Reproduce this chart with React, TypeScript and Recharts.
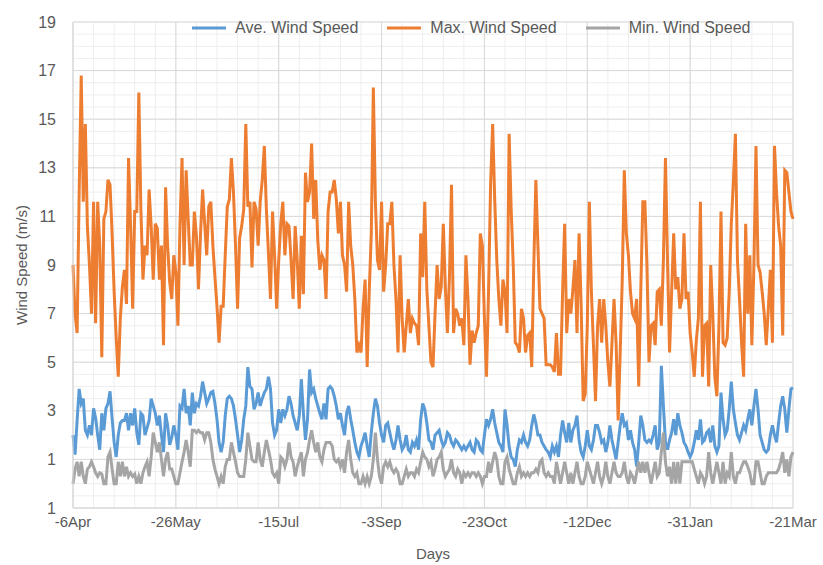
import {
  LineChart,
  Line,
  XAxis,
  YAxis,
  CartesianGrid,
  Legend,
} from "recharts";

// daily values, 6 Apr -> 21 Mar (351 days) in six blocks
const maxApr = [9.0, 7.0, 6.2, 12.0, 16.8, 11.6, 14.8, 10.6, 9.0, 7.0, 11.6, 6.6, 11.6, 9.8, 5.2, 10.9, 11.2, 12.5, 12.3, 10.3, 7.9, 6.0, 4.4, 6.8, 8.1, 8.8, 7.4, 13.4, 10.6, 7.2, 11.2, 11.2, 16.1, 11.3, 8.4, 9.8, 9.4, 12.1, 10.6, 8.4, 10.7, 10.5, 8.4, 9.8, 5.7, 12.2, 9.8, 8.3, 7.6, 9.4, 8.7, 6.5, 10.6, 13.4, 9.0, 12.9, 10.9, 9.0];
const maxJun = [9.0, 11.2, 10.2, 8.0, 10.3, 12.1, 10.7, 9.4, 11.4, 11.6, 9.8, 8.5, 7.3, 5.8, 7.3, 7.3, 9.4, 11.4, 11.7, 13.4, 12.0, 9.8, 7.2, 10.1, 10.6, 11.3, 14.8, 11.4, 11.6, 8.9, 11.6, 11.3, 9.8, 11.6, 12.5, 13.9, 11.3, 9.5, 7.6, 11.2, 9.4, 7.2, 9.2, 10.7, 11.6, 9.4, 10.7, 10.6, 9.2, 7.6, 10.6, 9.2, 7.2, 10.2, 7.8, 12.8, 11.6, 12.0];
const maxAug = [14.0, 10.9, 12.5, 10.0, 8.8, 9.4, 9.2, 7.6, 11.2, 12.0, 12.0, 12.5, 11.7, 10.3, 11.6, 9.4, 9.0, 7.9, 11.6, 9.8, 9.0, 7.6, 5.4, 5.7, 5.4, 7.2, 8.4, 4.8, 7.9, 10.3, 16.3, 11.6, 9.2, 8.8, 11.6, 7.9, 9.0, 10.7, 10.7, 11.6, 9.0, 7.6, 5.4, 9.4, 6.8, 5.4, 6.5, 7.6, 6.2, 6.8, 6.6, 6.5, 5.7, 10.3, 8.5, 11.6, 8.0, 6.5, 5.0];
const maxOct = [4.8, 7.0, 9.0, 7.6, 8.1, 10.7, 8.1, 6.2, 8.5, 12.3, 6.2, 7.2, 7.0, 6.5, 6.8, 5.7, 9.4, 7.6, 4.9, 6.3, 5.8, 6.2, 6.5, 10.3, 9.8, 6.8, 4.4, 7.9, 12.3, 14.8, 11.7, 9.2, 7.6, 6.5, 8.4, 7.9, 6.2, 14.4, 11.3, 9.0, 5.8, 5.7, 5.4, 7.2, 6.8, 5.4, 6.1, 6.2, 4.8, 9.0, 12.5, 9.8, 7.2, 7.0, 6.8, 4.9, 4.9, 4.9];
const maxDec = [4.8, 4.6, 6.2, 4.5, 4.5, 7.9, 10.7, 6.2, 7.6, 7.0, 8.0, 9.2, 6.2, 10.3, 7.4, 3.4, 3.7, 6.5, 11.6, 7.9, 5.7, 3.4, 6.5, 7.6, 5.8, 7.6, 6.5, 5.0, 4.0, 5.8, 7.6, 5.8, 2.6, 5.4, 8.4, 12.9, 10.3, 9.4, 7.9, 7.0, 6.8, 7.6, 4.0, 7.9, 11.6, 11.6, 9.0, 5.0, 6.5, 6.6, 5.7, 7.9, 8.0, 6.5, 9.2, 13.4, 9.2, 5.4];
const maxFeb = [7.9, 10.3, 8.0, 8.5, 7.2, 7.6, 10.3, 7.6, 7.9, 6.2, 5.4, 4.4, 5.9, 6.8, 11.6, 4.4, 6.5, 6.6, 4.0, 9.0, 7.0, 4.4, 3.6, 6.5, 11.2, 5.8, 5.7, 6.0, 7.9, 10.7, 12.4, 14.4, 9.2, 7.6, 5.8, 4.4, 10.7, 7.0, 9.4, 5.7, 9.0, 13.9, 9.0, 8.7, 7.9, 7.0, 5.7, 7.2, 8.8, 5.8, 13.9, 12.0, 10.6, 9.8, 6.1, 12.9, 12.8, 12.0, 11.2, 10.9];

const aveApr = [2.0, 1.2, 2.6, 3.9, 3.3, 3.5, 2.2, 2.0, 2.4, 2.0, 3.1, 2.7, 2.0, 1.4, 2.9, 2.2, 3.1, 3.3, 3.8, 2.7, 1.7, 1.1, 2.0, 2.5, 2.6, 2.6, 2.9, 2.2, 2.9, 2.4, 3.1, 2.1, 1.6, 2.9, 2.8, 2.0, 2.3, 2.6, 3.5, 3.2, 2.9, 2.4, 2.8, 2.0, 1.3, 2.9, 2.4, 1.6, 1.9, 2.4, 2.0, 1.4, 3.2, 3.1, 3.9, 2.9, 3.2, 2.4];
const aveJun = [3.75, 2.9, 3.3, 3.2, 3.6, 4.2, 3.75, 3.3, 3.5, 3.75, 3.8, 3.3, 2.65, 1.7, 1.3, 1.7, 2.8, 3.5, 3.6, 3.5, 3.2, 2.65, 2.0, 1.3, 1.8, 2.65, 3.2, 4.8, 4.0, 3.9, 3.06, 3.3, 3.75, 3.2, 3.5, 3.75, 3.9, 4.4, 3.9, 2.5, 2.0, 2.2, 3.06, 2.5, 3.06, 2.8, 3.06, 3.6, 3.3, 2.8, 2.5, 2.2, 2.8, 4.3, 2.9, 1.8, 2.65, 4.7];
const aveAug = [3.75, 3.9, 3.5, 3.2, 2.9, 2.65, 3.3, 2.65, 3.9, 4.0, 3.9, 3.6, 3.2, 2.65, 2.9, 2.4, 2.0, 2.9, 3.2, 2.65, 2.2, 1.7, 1.3, 1.1, 1.55, 1.8, 2.1, 1.55, 1.1, 2.1, 2.9, 3.5, 3.2, 2.5, 2.0, 1.7, 2.4, 2.5, 2.1, 1.7, 1.4, 1.8, 2.4, 1.8, 1.4, 1.55, 2.0, 1.4, 1.3, 1.7, 1.55, 1.8, 1.4, 2.65, 3.3, 3.06, 2.5, 1.8, 1.7];
const aveOct = [1.4, 2.0, 2.1, 2.2, 1.8, 1.55, 1.7, 2.1, 2.0, 1.7, 1.55, 1.8, 1.7, 1.55, 1.4, 1.55, 1.4, 1.55, 1.7, 1.4, 1.3, 1.8, 1.7, 1.4, 1.3, 2.0, 2.65, 2.4, 2.65, 3.06, 2.5, 2.1, 1.7, 1.55, 1.3, 3.06, 2.4, 1.55, 1.1, 1.0, 0.7, 1.4, 1.8, 1.7, 2.0, 1.7, 1.55, 1.8, 2.4, 2.85, 2.5, 2.0, 2.0, 1.7, 1.55, 1.4, 1.3, 1.1];
const aveDec = [1.55, 1.3, 1.55, 1.1, 2.0, 2.6, 2.1, 1.7, 2.5, 1.7, 2.2, 2.4, 2.8, 1.8, 1.3, 1.1, 1.55, 2.2, 1.55, 1.4, 1.8, 2.4, 2.4, 2.1, 1.7, 1.8, 1.3, 1.7, 2.4, 1.8, 1.4, 1.0, 1.7, 2.4, 2.9, 2.4, 2.5, 1.8, 2.2, 1.7, 1.4, 0.7, 1.7, 2.8, 2.4, 1.8, 1.7, 1.8, 1.7, 2.0, 2.4, 1.4, 1.7, 4.85, 3.2, 1.7, 1.4, 1.8];
const aveFeb = [2.1, 2.65, 2.0, 2.9, 2.4, 2.1, 1.7, 1.55, 1.3, 1.1, 1.3, 1.7, 2.2, 1.8, 2.65, 1.7, 1.8, 2.1, 2.2, 1.7, 2.4, 1.55, 1.3, 1.55, 3.75, 2.65, 2.0, 2.2, 3.06, 4.2, 3.06, 2.5, 2.0, 1.8, 2.1, 2.4, 2.2, 2.65, 3.06, 2.4, 3.2, 3.9, 3.06, 2.0, 1.7, 1.4, 1.3, 1.4, 2.0, 2.4, 2.0, 1.7, 2.5, 3.2, 3.6, 3.06, 2.1, 3.06, 3.9, 3.95];

const minApr = [0, 0.6, 0.9, 0.3, 0.9, 0.3, 0, 0.6, 0.7, 0.9, 0.7, 0.45, 0.3, 0.45, 0.4, 0, 0, 1.1, 1.3, 0.6, 0, 0, 0.9, 0.3, 0.9, 0.3, 0.7, 0.3, 0.45, 0.3, 0.4, 0, 0.3, 0, 0.45, 0.7, 0.9, 0.3, 1.1, 2.1, 1.7, 1.3, 1.7, 1.0, 0.3, 1.0, 1.3, 0.6, 0.6, 0.3, 0, 0, 0.45, 0.9, 1.3, 1.8, 1.3, 0.7];
const minJun = [2.2, 2.2, 2.1, 2.2, 2.1, 2.1, 1.8, 2.1, 2.1, 1.7, 1.0, 0.6, 0.3, 0, 0.3, 0, 0.7, 1.0, 1.0, 1.7, 1.3, 0.9, 0.45, 0.3, 0.3, 0.3, 1.0, 2.1, 1.55, 1.0, 0.9, 0.9, 1.7, 1.0, 0.7, 1.3, 1.8, 1.4, 1.0, 0.45, 0.3, 0.45, 0, 1.1, 1.0, 0.7, 1.0, 1.7, 1.1, 0.9, 0.3, 0.7, 1.0, 1.3, 0.3, 1.0, 1.3, 1.8];
const minAug = [2.2, 1.7, 1.3, 1.7, 1.1, 0.9, 1.4, 1.7, 1.7, 1.7, 1.55, 1.0, 0.9, 1.0, 0.7, 1.0, 0.45, 1.3, 1.8, 1.0, 0.45, 0.3, 0.45, 0, 0, 0.3, 0, 0.3, 0, 0.3, 1.0, 2.1, 1.0, 0.3, 0, 0.7, 0.9, 0.7, 0.9, 0.6, 0.45, 0.6, 0.45, 0, 0, 0.3, 0.6, 0.3, 0.45, 0.45, 0.3, 0.6, 0.45, 0.9, 1.3, 1.1, 1.0, 0.7, 0.9];
const minOct = [0.3, 0.6, 1.0, 1.1, 1.3, 0.6, 0.3, 0.45, 0.6, 1.0, 0.45, 0.3, 0.6, 0.45, 0, 0.45, 0.3, 0.45, 0.3, 0.45, 0.45, 0.3, 0.45, 0.3, 0, 0.3, 0.3, 0.9, 0.45, 0.9, 1.3, 1.0, 0.3, 0, 0, 0.9, 1.1, 0.6, 0.3, 0, 0, 0.45, 0.7, 0.3, 0.45, 0.3, 0.45, 0.3, 0.45, 0.45, 0.6, 0.45, 0.9, 1.0, 0.45, 0.3, 0.45, 0.3];
const minDec = [0.3, 0, 0.9, 0.45, 0, 0.45, 0.9, 0.45, 0, 0.45, 0, 0.45, 0.9, 0.3, 0, 0, 0.3, 0.9, 0.6, 0.3, 0, 0.45, 0.9, 0.3, 0, 0.3, 0.9, 0.3, 0, 0.45, 0.9, 0.45, 0.3, 0.3, 0.45, 0.9, 0.3, 0, 0.45, 0.3, 0, 0.45, 0.9, 0.45, 0.9, 0.45, 0.9, 0.45, 0, 0.45, 0.9, 0.3, 0.45, 1.3, 2.1, 0.9, 0.3, 0.7];
const minFeb = [0, 0.9, 0, 0.9, 0, 0.9, 0.9, 0.9, 0.9, 0.9, 0.9, 0.6, 0.3, 0, 0.45, 0.3, 0, 0.3, 1.3, 0.45, 0, 0.45, 0.9, 0.45, 0, 0.9, 0, 0.45, 0.3, 1.3, 0.3, 0, 0.45, 0.45, 0.7, 0.9, 0.9, 0.7, 0.45, 0, 0, 0.9, 0.9, 0.45, 0, 0, 0.3, 0.45, 0.45, 0.45, 0.45, 0.45, 0.6, 0.9, 1.3, 0.45, 1.0, 0.3, 1.1, 1.3];

const tickDays = [0, 50, 100, 150, 200, 250, 300, 350];
const tickLabels = ["-6Apr", "-26May", "-15Jul", "-3Sep", "-23Oct", "-12Dec", "-31Jan", "-21Mar"];
const yTicks = [-1, 1, 3, 5, 7, 9, 11, 13, 15, 17, 19];

const maxWind = [...maxApr, ...maxJun, ...maxAug, ...maxOct, ...maxDec, ...maxFeb];
const aveWind = [...aveApr, ...aveJun, ...aveAug, ...aveOct, ...aveDec, ...aveFeb];
const minWind = [...minApr, ...minJun, ...minAug, ...minOct, ...minDec, ...minFeb];

const data = maxWind.map((v, i) => ({
  day: i,
  ave: aveWind[i],
  max: v,
  min: minWind[i],
}));

// grid positions (not data)
const minorY: number[] = [];
for (let v = -1; v <= 19; v += 0.5) minorY.push(v);
const minorX: number[] = [];
for (let d = 0; d <= 350; d += 10) minorX.push(d);

const FONT = "'Liberation Sans', Arial, sans-serif";
const TEXT = "#595959";

function LegendRow({ payload }: any) {
  return (
    <div style={{ display: "flex", alignItems: "center", fontFamily: FONT, fontSize: 16, color: TEXT }}>
      {(payload || []).map((p: any) => (
        <div key={p.value} style={{ display: "flex", alignItems: "center", marginRight: 29 }}>
          <svg width={34} height={6}>
            <line x1={0} y1={3} x2={34} y2={3} stroke={p.color} strokeWidth={3} />
          </svg>
          <span style={{ marginLeft: 9 }}>{p.value}</span>
        </div>
      ))}
    </div>
  );
}

export default function App() {
  return (
    <div style={{ position: "absolute", left: 0, top: 0, width: 823, height: 565, background: "#fff" }}>
      <LineChart
        width={823}
        height={565}
        data={data}
        margin={{ top: 22, right: 30, bottom: 0, left: 0 }}
      >
        <CartesianGrid
          stroke="#eeeeee"
          horizontalValues={minorY}
          verticalValues={minorX}
        />
        <CartesianGrid
          stroke="#d9d9d9"
          horizontalValues={yTicks}
          verticalValues={tickDays}
        />
        <XAxis
          dataKey="day"
          type="number"
          domain={[0, 350]}
          ticks={tickDays}
          interval={0}
          tickFormatter={(v) => tickLabels[tickDays.indexOf(v)]}
          tick={{ fill: TEXT, fontSize: 15, fontFamily: FONT }}
          tickLine={false}
          axisLine={{ stroke: "#d9d9d9" }}
          height={57}
          label={{ value: "Days", position: "insideBottom", offset: 6, fill: TEXT, fontSize: 15, fontFamily: FONT }}
        />
        <YAxis
          domain={[-1, 19]}
          ticks={yTicks}
          interval={0}
          tickFormatter={(v) => String(Math.abs(v))}
          tick={{ fill: TEXT, fontSize: 16, fontFamily: FONT }}
          tickLine={false}
          tickMargin={11}
          axisLine={{ stroke: "#d9d9d9" }}
          width={73}
          label={{
            value: "Wind Speed (m/s)",
            angle: -90,
            position: "insideLeft",
            offset: 22,
            style: { textAnchor: "middle" },
            fill: TEXT,
            fontSize: 15,
            fontFamily: FONT,
          }}
        />
        <Legend
          layout="horizontal"
          verticalAlign="middle"
          align="center"
          content={<LegendRow />}
          wrapperStyle={{ top: 19, left: 192, width: "auto" }}
        />
        <Line
          type="linear"
          dataKey="ave"
          name="Ave. Wind Speed"
          stroke="#5b9bd5"
          strokeWidth={3}
          dot={false}
          isAnimationActive={false}
        />
        <Line
          type="linear"
          dataKey="max"
          name="Max. Wind Speed"
          stroke="#ed7d31"
          strokeWidth={3}
          dot={false}
          isAnimationActive={false}
        />
        <Line
          type="linear"
          dataKey="min"
          name="Min. Wind Speed"
          stroke="#a5a5a5"
          strokeWidth={3}
          dot={false}
          isAnimationActive={false}
        />
      </LineChart>
    </div>
  );
}
